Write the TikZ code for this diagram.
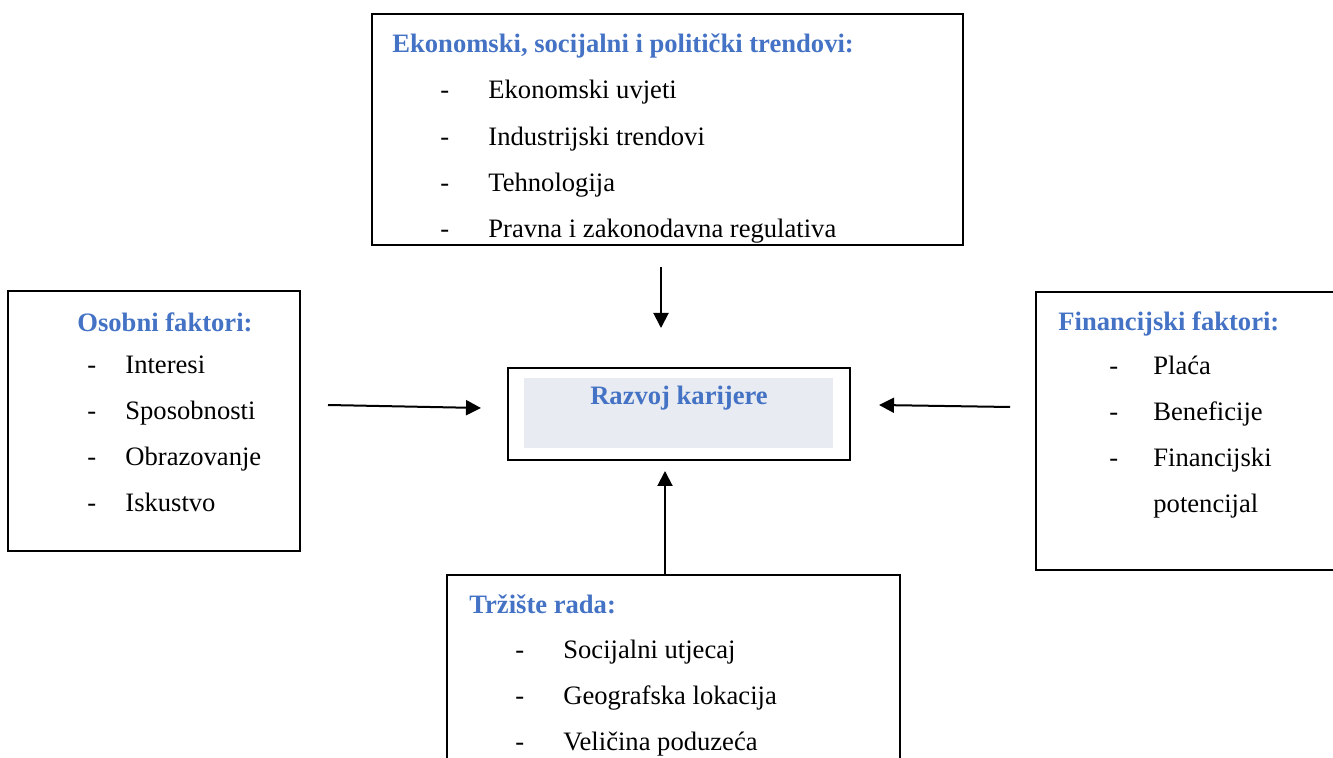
\documentclass[tikz,border=0pt]{standalone}
\usepackage{fontspec}
\setmainfont{Liberation Serif}
\usetikzlibrary{arrows.meta}
\definecolor{naslov}{HTML}{4472C4}
\definecolor{sjena}{HTML}{E8EBF1}
\tikzset{
  okvir/.style={draw,line width=1pt,inner sep=0pt},
  naslovtxt/.style={anchor=base west,inner sep=0pt,text=naslov,font=\fontsize{13.3}{15}\selectfont\bfseries},
  stavka/.style={anchor=base west,inner sep=0pt,font=\fontsize{13.3}{15}\selectfont},
  strelica/.style={line width=1pt,-{Triangle[length=7.5pt,width=7.5pt]}}
}
\begin{document}
\begin{tikzpicture}[x=0.5pt,y=-0.5pt]
\clip (0,0) rectangle (1333,758);

% okviri
\node[okvir,minimum width=295.5pt,minimum height=115.5pt] (eko) at (667.5,129.5) {};
\node[okvir,minimum width=146pt,minimum height=130pt] (osob) at (154,421) {};
\node[okvir,minimum width=160pt,minimum height=139pt] (fin) at (1196,431) {};
\node[okvir,minimum width=226.5pt,minimum height=110pt] (trz) at (673.5,685) {};
\node[okvir,line width=1.4pt,minimum width=171pt,minimum height=46pt] (raz) at (679,414) {};
\node[fill=sjena,inner sep=0pt,minimum width=154.5pt,minimum height=35pt] (razin) at (678.5,413) {};
\node[anchor=base,inner sep=0pt,text=naslov,font=\fontsize{13.3}{15}\selectfont\bfseries] (raztxt) at (679,405) {Razvoj karijere};

\begin{scope}
\clip (eko.north west) rectangle (eko.south east);
\node[naslovtxt] (eko-n) at (392,53) {Ekonomski, socijalni i politički trendovi:};
\foreach \t [count=\i] in {Ekonomski uvjeti,Industrijski trendovi,Tehnologija,Pravna i zakonodavna regulativa}
{
    \node[stavka] (eko-c\i) at (440,99+46.3*\i-46.3) {-};
    \node[stavka] (eko-\i) at (488,99+46.3*\i-46.3) {\t};
}
\end{scope}

\node[naslovtxt] (osob-n) at (77,332) {Osobni faktori:};
\foreach \t [count=\i] in {Interesi,Sposobnosti,Obrazovanje,Iskustvo}
{
    \node[stavka] (osob-c\i) at (87,374+46*\i-46) {-};
    \node[stavka] (osob-\i) at (125,374+46*\i-46) {\t};
}

\node[naslovtxt] (fin-n) at (1058,331) {Financijski faktori:};
\foreach \t [count=\i] in {Plaća,Beneficije,Financijski}
{
    \node[stavka] (fin-c\i) at (1109,375+46*\i-46) {-};
    \node[stavka] (fin-\i) at (1153,375+46*\i-46) {\t};
}
\node[stavka] (fin-4) at (1153,513) {potencijal};

\node[naslovtxt] (trz-n) at (469,613) {Tržište rada:};
\foreach \t [count=\i] in {Socijalni utjecaj,Geografska lokacija,Veličina poduzeća}
{
    \node[stavka] (trz-c\i) at (515,659+45.5*\i-45.5) {-};
    \node[stavka] (trz-\i) at (563,659+45.5*\i-45.5) {\t};
}

% strelice
\coordinate (s1) at (661,267);
\coordinate (k1) at (661,328);
\coordinate (s2) at (328,405);
\coordinate (k2) at (481,408);
\coordinate (s3) at (1010,407);
\coordinate (k3) at (879,405);
\coordinate (s4) at (665,575);
\coordinate (k4) at (665,471);
\foreach \a/\b in {s1/k1,s2/k2,s3/k3,s4/k4}
    \draw[strelica] (\a) -- (\b);
\end{tikzpicture}
\end{document}
